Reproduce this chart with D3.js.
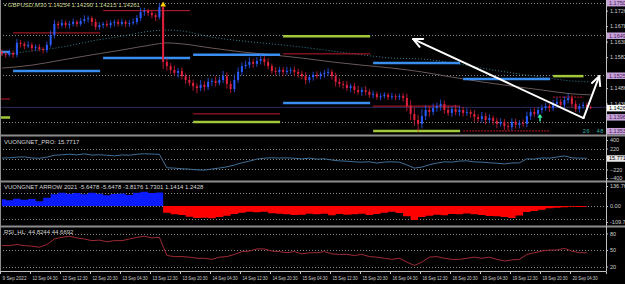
<!doctype html>
<html>
<head>
<meta charset="utf-8">
<title>GBPUSD M30</title>
<script src="https://cdn.jsdelivr.net/npm/d3@7"></script>
<style>
  body { margin: 0; background: #000; }
  svg { display: block; font-family: "Liberation Sans", Arial, sans-serif; }
</style>
</head>
<body>
<svg id="chart" width="625" height="284"></svg>
<script>
// ---- data ----
const timeLabels = ["9 Sep 2022", "12 Sep 04:30", "12 Sep 12:30", "12 Sep 20:30", "13 Sep 04:30",
  "13 Sep 12:30", "13 Sep 20:30", "14 Sep 04:30", "14 Sep 12:30", "14 Sep 20:30", "15 Sep 04:30",
  "15 Sep 12:30", "15 Sep 20:30", "16 Sep 04:30", "16 Sep 12:30", "16 Sep 20:30", "19 Sep 04:30",
  "19 Sep 12:30", "19 Sep 20:30", "20 Sep 04:30"];
const tickHours = [0, 8, 16, 24, 32, 40, 48, 56, 64, 72, 80, 88, 96, 104, 112, 120, 128, 136, 144, 152];

// hourly closes, bar 0 .. 157
const firstOpen = 1.1598;
const closes = [
  1.1592, 1.1589, 1.1595, 1.1589, 1.1626, 1.1623, 1.1616, 1.1620, 1.1610, 1.1613,
  1.1607, 1.1604, 1.1620, 1.1650, 1.1685, 1.1681, 1.1688, 1.1681, 1.1685, 1.1691,
  1.1685, 1.1694, 1.1700, 1.1703, 1.1691, 1.1675, 1.1681, 1.1685, 1.1681, 1.1688,
  1.1691, 1.1685, 1.1691, 1.1685, 1.1688, 1.1691, 1.1703, 1.1722, 1.1725, 1.1719,
  1.1712, 1.1706, 1.1737, 1.1567, 1.1554, 1.1542, 1.1533, 1.1539, 1.1523, 1.1511,
  1.1502, 1.1492, 1.1486, 1.1496, 1.1489, 1.1505, 1.1508, 1.1502, 1.1511, 1.1523,
  1.1499, 1.1483, 1.1511, 1.1536, 1.1554, 1.1558, 1.1567, 1.1561, 1.1570, 1.1576,
  1.1567, 1.1554, 1.1539, 1.1536, 1.1542, 1.1536, 1.1539, 1.1542, 1.1536, 1.1530,
  1.1523, 1.1511, 1.1520, 1.1527, 1.1523, 1.1530, 1.1533, 1.1536, 1.1523, 1.1505,
  1.1499, 1.1496, 1.1486, 1.1492, 1.1480, 1.1474, 1.1480, 1.1474, 1.1465, 1.1468,
  1.1458, 1.1461, 1.1465, 1.1458, 1.1461, 1.1458, 1.1461, 1.1455, 1.1430, 1.1406,
  1.1387, 1.1375, 1.1399, 1.1418, 1.1412, 1.1424, 1.1430, 1.1437, 1.1418, 1.1409,
  1.1421, 1.1412, 1.1418, 1.1409, 1.1412, 1.1406, 1.1396, 1.1390, 1.1399, 1.1387,
  1.1393, 1.1384, 1.1375, 1.1381, 1.1368, 1.1365, 1.1381, 1.1372, 1.1378, 1.1375,
  1.1399, 1.1412, 1.1406, 1.1418, 1.1424, 1.1430, 1.1424, 1.1437, 1.1443, 1.1434,
  1.1449, 1.1455, 1.1437, 1.1421, 1.1430, 1.1434, 1.1427, 1.14261];
// wick lengths above / below the body, in pips
const wickUp = [
  8, 6, 10, 7, 12, 9, 6, 11, 7, 8,   9, 6, 10, 14, 12, 8, 11, 7, 9, 10,
  6, 9, 12, 8, 7, 10, 9, 6, 11, 8,   7, 9, 10, 6, 8, 11, 9, 13, 10, 7,
  8, 6, 12, 4, 12, 10, 14, 9, 11, 8,   13, 10, 9, 15, 11, 12, 8, 14, 10, 16,
  12, 9, 17, 14, 11, 13, 15, 10, 12, 14,   9, 11, 8, 12, 10, 9, 13, 8, 11, 10,
  9, 12, 8, 10, 11, 7, 9, 12, 8, 10,   11, 9, 12, 8, 10, 13, 9, 11, 8, 10,
  7, 9, 8, 6, 10, 7, 8, 9, 14, 18,   20, 16, 22, 15, 12, 14, 11, 13, 10, 12,
  9, 13, 11, 10, 12, 8, 11, 9, 13, 10,   12, 8, 10, 11, 9, 13, 12, 10, 9, 11,
  14, 10, 12, 9, 11, 10, 8, 12, 13, 9,   11, 14, 9, 10, 8, 9, 7, 5];
const wickDn = [
  7, 9, 6, 10, 8, 11, 9, 6, 10, 8,   7, 11, 9, 8, 10, 12, 7, 9, 11, 8,
  10, 7, 8, 11, 12, 9, 8, 10, 7, 9,   11, 8, 7, 10, 9, 6, 8, 10, 12, 9,
  10, 12, 7, 22, 14, 11, 9, 15, 10, 12,   9, 14, 16, 10, 12, 9, 13, 11, 8, 10,
  15, 12, 10, 9, 11, 8, 10, 12, 9, 11,   12, 10, 9, 11, 8, 12, 9, 10, 13, 11,
  10, 13, 9, 11, 8, 10, 12, 9, 11, 14,   10, 12, 9, 13, 11, 8, 12, 10, 9, 11,
  8, 10, 7, 9, 8, 10, 9, 11, 16, 20,   18, 24, 14, 12, 15, 10, 11, 14, 12, 9,
  12, 10, 13, 11, 9, 12, 14, 10, 11, 13,   10, 12, 14, 9, 13, 11, 10, 12, 11, 9,
  10, 12, 9, 11, 10, 8, 12, 9, 10, 11,   9, 10, 12, 9, 11, 8, 9, 6];

// moving averages, sampled at these bars
const maIdx = [0, 8, 16, 24, 32, 40, 44, 48, 56, 64, 72, 80, 88, 96, 104, 112, 120, 128, 136, 144, 152, 157];
const maFast = [1.1589, 1.1601, 1.1613, 1.1632, 1.1647, 1.1663, 1.1666, 1.1663, 1.1644, 1.1632, 1.1623,
  1.1613, 1.1601, 1.1589, 1.1579, 1.1576, 1.1564, 1.1548, 1.1533, 1.1520, 1.1508, 1.1505];
const maSlow = [1.1548, 1.1557, 1.1573, 1.1589, 1.1604, 1.1620, 1.1626, 1.1623, 1.1610, 1.1598, 1.1589,
  1.1579, 1.1567, 1.1557, 1.1548, 1.1536, 1.1520, 1.1505, 1.1492, 1.1480, 1.1468, 1.1465];

// daily levels (day start hour, one value per day, null = not on screen)
const dayStarts = [-20.5, 3.5, 27.5, 51.5, 75.5, 99.5, 123.5, 147.5];
const blueLevels = [1.1598, 1.1539, 1.1579, 1.1589, 1.1440, 1.1564, 1.1514, null];
const greenLevels = [1.1395, null, null, 1.1381, 1.1647, 1.1353, null, 1.1523];
const redLevels = [1.1452, 1.1657, 1.1726, 1.1406, 1.1592, 1.1430, 1.1353, 1.1458];

const pivotLevels = [1.1750, 1.1649, 1.1525, 1.1382];
const boxLevels = [1.17500, 1.16490, 1.15250, 1.13960, 1.13530];
const priceTicks = [1.1726, 1.1678, 1.1630, 1.1582, 1.1486, 1.1438];
const lastPrice = 1.14261;

// drawn annotations, [hour, price]
const arrowBase = [155.6, 1.1393];
const arrowUpLeft = [110.2, 1.1638];
const arrowUpRight = [159.8, 1.1523];
const yellowMark = [43, 1.1744];
const greenMark = [143.5, 1.1398];

// indicator panes, sampled every second bar
const paneIdx = d3.range(0, 157, 2);
const proVals = [18, 25, 40, 45, 22, 15, 38, 80, 88, 102,
  86, 108, 82, 90, 78, 66, 85, 80, 100, 110,
  104, 98, -185, -192, -205, -214, -228, -234, -212, -190,
  -165, -128, -80, -45, -3, 18, 25, 20, 24, 16,
  2, 19, -4, 5, -22, -40, -45, -60, -66, -58,
  -86, -64, -60, -66, -125, -192, -170, -122, -86, -60,
  -65, -44, -38, -62, -66, -80, -88, -104, -85, -80,
  4, -2, 22, 18, 40, 66, 24, 18, 16];
const arrowVals = [46, 40, 50, 42, 47, 33, 57, 80, 90, 83,
  88, 80, 91, 84, 74, 82, 85, 76, 90, 97,
  88, 92, -46, -56, -62, -74, -83, -80, -84, -76,
  -67, -55, -47, -40, -43, -39, -49, -54, -57, -62,
  -60, -53, -56, -54, -63, -55, -60, -57, -53, -62,
  -55, -47, -40, -48, -70, -96, -76, -67, -60, -63,
  -55, -57, -52, -56, -62, -68, -70, -76, -83, -66,
  -42, -34, -26, -15, -13, -8, -6, -7, -5];
const rsiVals = [58, 58, 60, 58, 57, 55, 60, 70, 73, 75,
  72, 70, 67, 68, 65, 67, 67, 70, 73, 75,
  72, 73, 40, 38, 38, 37, 35, 35, 33, 37,
  38, 42, 47, 48, 52, 52, 48, 47, 45, 47,
  43, 45, 45, 47, 43, 42, 42, 40, 42, 38,
  37, 35, 33, 35, 28, 22, 28, 37, 38, 35,
  33, 33, 35, 37, 35, 37, 33, 30, 32, 33,
  42, 45, 48, 50, 50, 53, 48, 45, 45];
const proTicks = [400, 220, -220, -400];
const proGrid = [220, 0, -220];
const arrowTicks = [136.7627, 0, -109.711];
const arrowGrid = [90, 0, -90];
const rsiTicks = [80, 50, 20];

// ---- layout ----
const svg = d3.select("#chart");
const axisX = 606;
const grey = "#8c8c8c";
const dotted = "#8a8a8a";
const pip = 0.0001;

svg.append("rect").attr("width", 625).attr("height", 284).attr("fill", "#000");

const x = d3.scaleLinear().domain([0, 161.6]).range([0, axisX]);
const bx = i => x(i + 0.5);

const yMain = d3.scaleLinear().domain([1.1759, 1.13436]).range([0, 134]);
const yPro = d3.scaleLinear().domain([-400, 400]).range([178, 140]);
const yArr = d3.scaleLinear().domain([-109.711, 136.7627]).range([222, 186]);
const yRsi = d3.scaleLinear().domain([20, 80]).range([266.5, 233.5]);

function clip(id, y0, y1) {
  svg.append("clipPath").attr("id", id).append("rect")
    .attr("x", 0).attr("y", y0).attr("width", axisX).attr("height", y1 - y0);
}
clip("cMain", 0, 134);
clip("cPro", 137, 180);
clip("cArr", 183, 225);
clip("cRsi", 228, 270);

function hDots(g, ys) {
  g.selectAll(null).data(ys).enter().append("line")
    .attr("x1", 0).attr("x2", axisX)
    .attr("y1", d => Math.round(d) + 0.5).attr("y2", d => Math.round(d) + 0.5)
    .attr("stroke", dotted).attr("stroke-dasharray", "1,2");
}

// ---- main pane ----
const main = svg.append("g").attr("clip-path", "url(#cMain)");
hDots(main, pivotLevels.map(yMain));

// current price line
main.append("line").attr("x1", 0).attr("x2", axisX)
  .attr("y1", yMain(lastPrice)).attr("y2", yMain(lastPrice))
  .attr("stroke", "#2c2c58").attr("stroke-width", 1);

// moving averages
const maLine = d3.line().x((d, i) => bx(maIdx[i])).y(d => yMain(d)).curve(d3.curveMonotoneX);
main.append("path").attr("d", maLine(maSlow)).attr("fill", "none")
  .attr("stroke", "#6a5858").attr("stroke-width", 1);
main.append("path").attr("d", maLine(maFast)).attr("fill", "none")
  .attr("stroke", "#2f7f8f").attr("stroke-width", 1).attr("stroke-dasharray", "1,2");

// daily levels
function levels(vals, color, width, dashFrom) {
  const segs = vals.map((v, k) => ({ v, k })).filter(d => d.v !== null);
  main.selectAll(null).data(segs).enter().append("line")
    .attr("x1", d => x(dayStarts[d.k]))
    .attr("x2", d => x(Math.min(dayStarts[d.k] + 23.2, 155.6)))
    .attr("y1", d => yMain(d.v)).attr("y2", d => yMain(d.v))
    .attr("stroke", color).attr("stroke-width", width)
    .attr("stroke-dasharray", d => (dashFrom !== undefined && d.k >= dashFrom) ? "2,1" : null);
}
levels(redLevels, "#c01c2c", 1, 6);
levels(blueLevels, "#3a8ef0", 2.5);
levels(greenLevels, "#a2c83a", 2.5);

// candles
const bars = closes.map((c, i) => {
  const o = i === 0 ? firstOpen : closes[i - 1];
  return { i, o, c, h: Math.max(o, c) + wickUp[i] * pip, l: Math.min(o, c) - wickDn[i] * pip };
});
const candle = main.selectAll(null).data(bars).enter().append("g")
  .attr("fill", d => d.c >= d.o ? "#2b5cff" : "#e0203c")
  .attr("stroke", d => d.c >= d.o ? "#2b5cff" : "#e0203c");
candle.append("line")
  .attr("x1", d => bx(d.i)).attr("x2", d => bx(d.i))
  .attr("y1", d => yMain(d.h)).attr("y2", d => yMain(d.l))
  .attr("stroke-width", 0.8);
candle.append("rect")
  .attr("x", d => bx(d.i) - 1)
  .attr("width", 2)
  .attr("y", d => yMain(Math.max(d.o, d.c)))
  .attr("height", d => Math.max(1, Math.abs(yMain(d.o) - yMain(d.c))))
  .attr("stroke", "none");

// markers
main.append("path").attr("d", d3.symbol(d3.symbolTriangle, 14)())
  .attr("transform", `translate(${bx(yellowMark[0])},${yMain(yellowMark[1])})`)
  .attr("fill", "#ffd400");
const gm = main.append("g")
  .attr("transform", `translate(${bx(greenMark[0])},${yMain(greenMark[1])})`);
gm.append("path").attr("d", d3.symbol(d3.symbolTriangle, 10)()).attr("fill", "#3cf0a0");
gm.append("line").attr("x1", 0).attr("x2", 0).attr("y1", 1).attr("y2", 5)
  .attr("stroke", "#3cf0a0").attr("stroke-width", 1.5);

// white hand-drawn arrows
function arrow(from, to) {
  const x0 = x(from[0]), y0 = yMain(from[1]), x1 = x(to[0]), y1 = yMain(to[1]);
  const a = Math.atan2(y0 - y1, x0 - x1);
  const g = svg.append("g").attr("stroke", "#fff").attr("stroke-width", 2)
    .attr("stroke-linecap", "round").attr("fill", "none");
  g.append("line").attr("x1", x0).attr("y1", y0).attr("x2", x1).attr("y2", y1);
  [-0.45, 0.45].forEach(da => {
    g.append("line").attr("x1", x1).attr("y1", y1)
      .attr("x2", x1 + 10 * Math.cos(a + da)).attr("y2", y1 + 10 * Math.sin(a + da));
  });
}
arrow(arrowBase, arrowUpLeft);
arrow(arrowBase, arrowUpRight);

svg.append("text").attr("x", 4).attr("y", 6.5)
  .attr("font-size", 6).attr("fill", "#c8d890")
  .text("\u25AA GBPUSD,M30  1.14254 1.14290 1.14215 1.14261");
svg.append("text").attr("x", 604).attr("y", 133).attr("text-anchor", "end")
  .attr("font-size", 5.8).attr("fill", "#2fb0a8").attr("letter-spacing", 0.5).text("26 : 48");

// ---- VUONGNET_PRO pane ----
const pro = svg.append("g").attr("clip-path", "url(#cPro)");
hDots(pro, proGrid.map(yPro));
pro.append("path")
  .attr("d", d3.line().x((d, i) => bx(paneIdx[i])).y(d => yPro(d))(proVals))
  .attr("fill", "none").attr("stroke", "#3f6f98").attr("stroke-width", 1);
svg.append("text").attr("x", 4).attr("y", 144).attr("font-size", 6)
  .attr("fill", "#d8d8d8").text("VUONGNET_PRO:  15.7717");

// ---- VUONGNET ARROW pane ----
const arr = svg.append("g").attr("clip-path", "url(#cArr)");
hDots(arr, arrowGrid.map(yArr));
const area = d3.area().x((d, i) => bx(paneIdx[i])).y0(yArr(0)).curve(d3.curveStep);
arr.append("path").attr("d", area.y1(d => yArr(Math.max(0, d)))(arrowVals)).attr("fill", "#0a1cff");
arr.append("path").attr("d", area.y1(d => yArr(Math.min(0, d)))(arrowVals)).attr("fill", "#ff0000");
svg.append("text").attr("x", 4).attr("y", 189).attr("font-size", 6)
  .attr("fill", "#d8d8d8").text("VUONGNET ARROW 2021  -5.6478 -5.6478 -3.8176 1.7301 1.1414 1.2428");

// ---- RSI pane ----
const rsi = svg.append("g").attr("clip-path", "url(#cRsi)");
hDots(rsi, rsiTicks.map(yRsi));
rsi.append("path")
  .attr("d", d3.line().x((d, i) => bx(paneIdx[i])).y(d => yRsi(d))(rsiVals))
  .attr("fill", "none").attr("stroke", "#a02a34").attr("stroke-width", 1);
svg.append("text").attr("x", 4).attr("y", 234).attr("font-size", 6)
  .attr("fill", "#d8d8d8").text("RSI_HL:  44.8244 44.6692");

// ---- separators and frame ----
[135.5, 181.5, 226.5].forEach(y => svg.append("line").attr("x1", 0).attr("x2", 625)
  .attr("y1", y).attr("y2", y).attr("stroke", grey).attr("stroke-width", 2));
svg.append("line").attr("x1", 0.5).attr("x2", 0.5).attr("y1", 0).attr("y2", 271).attr("stroke", grey);

// ---- right axes ----
function rightAxis(scale, ticks, fmt) {
  const g = svg.append("g").attr("transform", `translate(${axisX},0)`)
    .call(d3.axisRight(scale).tickValues(ticks).tickFormat(fmt).tickSize(2).tickPadding(2));
  g.select(".domain").remove();
  g.selectAll("line").attr("stroke", "#c0c0c0");
  g.selectAll("text").attr("fill", "#d0d0d0").attr("font-size", 5.5)
    .attr("font-family", "Liberation Sans, Arial, sans-serif");
  return g;
}
rightAxis(yMain, priceTicks, d3.format(".5f"));
rightAxis(yPro, proTicks, d3.format("d"));
rightAxis(yArr, arrowTicks, d => d === 0 ? "0.00" : String(d));
rightAxis(yRsi, rsiTicks, d3.format("d"));

function box(y, label, bg, fg) {
  const g = svg.append("g").attr("transform", `translate(${axisX + 1},${y})`);
  g.append("rect").attr("x", 0).attr("y", -3).attr("width", 20).attr("height", 6.5).attr("fill", bg);
  g.append("text").attr("x", 2).attr("y", 2.2).attr("font-size", 5.5).attr("fill", fg).text(label);
}
boxLevels.forEach(v => box(yMain(v), d3.format(".5f")(v), "#c6a2d8", "#4a1a5a"));
box(yMain(lastPrice) + 0.5, d3.format(".5f")(lastPrice), "#ffffff", "#000");
box(yPro(15.7717), "15.7717", "#e8e8e8", "#000");

svg.append("line").attr("x1", axisX + 0.5).attr("x2", axisX + 0.5).attr("y1", 0).attr("y2", 271)
  .attr("stroke", "#c0c0c0");

// ---- time axis ----
const tAxis = svg.append("g").attr("transform", "translate(0,271)")
  .call(d3.axisBottom(x).tickValues(tickHours).tickFormat((d, i) => timeLabels[i]).tickSize(3).tickPadding(2));
tAxis.select(".domain").attr("stroke", "#c0c0c0");
tAxis.selectAll("line").attr("stroke", "#c0c0c0");
tAxis.selectAll("text").attr("text-anchor", "start").attr("dx", 2).attr("fill", "#d0d0d0")
  .attr("font-size", 5.5).attr("font-family", "Liberation Sans, Arial, sans-serif")
  .attr("textLength", (d, i) => i === 0 ? 24 : 25).attr("lengthAdjust", "spacingAndGlyphs");
</script>
</body>
</html>
